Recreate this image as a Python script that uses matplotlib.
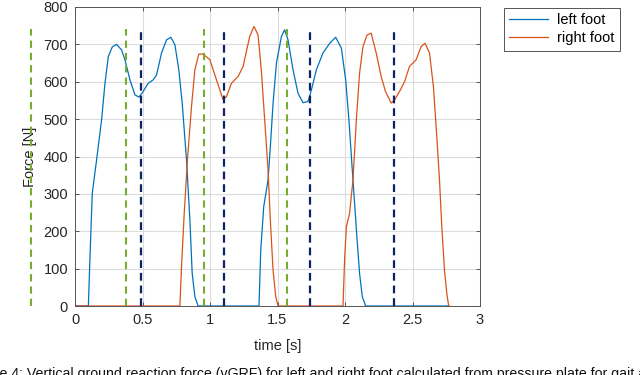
import numpy as np
import matplotlib
matplotlib.use('Agg')
import matplotlib.pyplot as plt

plt.rcParams.update({
    'font.family': ['Liberation Sans', 'DejaVu Sans'],
    'font.size': 10.5,
})

# vertical GRF, left foot (time in s, force in N)
left_t = [0.0, 0.099, 0.111, 0.128, 0.160, 0.197, 0.222, 0.247, 0.276, 0.308,
          0.345, 0.370, 0.407, 0.444, 0.473, 0.500, 0.542, 0.579, 0.604, 0.641,
          0.678, 0.710, 0.740, 0.769, 0.794, 0.826, 0.851, 0.868, 0.888, 0.912,
          1.363, 1.376, 1.398, 1.430, 1.447, 1.467, 1.492, 1.529, 1.553, 1.578,
          1.615, 1.652, 1.689, 1.726, 1.751, 1.788, 1.837, 1.887, 1.931, 1.973,
          2.005, 2.029, 2.054, 2.071, 2.088, 2.108, 2.128, 2.153, 2.770]
left_f = [0, 0, 132, 302, 391, 498, 596, 668, 693, 700,
          685, 659, 605, 565, 559, 571, 596, 605, 618, 677,
          712, 719, 699, 632, 543, 391, 230, 88, 25, 0,
          0, 150, 266, 337, 426, 542, 650, 721, 739, 712,
          632, 569, 544, 547, 578, 632, 677, 703, 719, 690,
          605, 498, 364, 275, 185, 87, 25, 0, 0]

# vertical GRF, right foot
right_t = [0.0, 0.777, 0.789, 0.809, 0.833, 0.863, 0.888, 0.917, 0.949, 0.999,
           1.048, 1.097, 1.122, 1.159, 1.208, 1.245, 1.294, 1.326, 1.356, 1.380,
           1.405, 1.430, 1.447, 1.467, 1.487, 1.504, 1.985, 1.997, 2.010, 2.034,
           2.059, 2.084, 2.108, 2.133, 2.163, 2.194, 2.231, 2.268, 2.300, 2.342,
           2.367, 2.404, 2.441, 2.478, 2.527, 2.564, 2.593, 2.626, 2.655, 2.680,
           2.700, 2.717, 2.737, 2.754, 2.768]
right_f = [0, 0, 105, 248, 391, 534, 632, 674, 674, 659,
           605, 552, 560, 596, 614, 641, 721, 748, 725, 632,
           498, 364, 230, 96, 25, 0, 0, 123, 212, 248,
           337, 498, 623, 694, 725, 730, 677, 614, 574, 543,
           551, 574, 600, 641, 659, 694, 703, 677, 587, 453,
           337, 212, 96, 34, 0]

# gait events (dashed markers)
green_events = [-0.325, 0.375, 0.954, 1.573]
navy_events = [0.491, 1.102, 1.743, 2.362]
event_top = 740

CAPTION = ("Figure 4: Vertical ground reaction force (vGRF) for left and right foot "
           "calculated from pressure plate for gait analysis")

fig = plt.figure(figsize=(6.4, 3.75), dpi=100)
ax = fig.add_axes([75 / 640, 1 - 306 / 375, 405 / 640, 299 / 375])

ax.plot(left_t, left_f, color='#0072BD', lw=0.9, label='left foot')
ax.plot(right_t, right_f, color='#D95319', lw=0.9, label='right foot')

for t in green_events:
    ax.plot([t, t], [0, event_top], ls=(0, (3.5, 2.4)), color='#77AC30', lw=1.5,
            clip_on=False)
for t in navy_events:
    ax.plot([t, t], [0, event_top], ls=(0, (3.5, 2.2)), color='#0B2366', lw=1.6,
            clip_on=False)

ax.set_xlim(0, 3)
ax.set_ylim(0, 800)
ax.set_xticks([0, 0.5, 1, 1.5, 2, 2.5, 3])
ax.set_xticklabels(['0', '0.5', '1', '1.5', '2', '2.5', '3'])
ax.set_yticks(np.arange(0, 801, 100))
ax.grid(True, color='#dcdcdc', lw=0.8)
ax.set_axisbelow(True)
ax.tick_params(direction='in', top=True, right=True, length=3, width=0.6,
               colors='#404040', labelcolor='#262626', pad=5)
for s in ax.spines.values():
    s.set_color('#555555')
    s.set_linewidth(0.7)

ax.set_xlabel('time [s]', color='#262626')
ax.set_ylabel('Force [N]', color='#262626')
ax.yaxis.set_label_coords(-0.095, 0.5)
ax.xaxis.set_label_coords(0.5, -0.11)

leg = ax.legend(loc='upper left', bbox_to_anchor=(504 / 640, 1 - 8 / 375),
                bbox_transform=fig.transFigure, fancybox=False, framealpha=1,
                edgecolor='#555555', borderaxespad=0, handlelength=2.7,
                borderpad=0.35, labelspacing=0.3, handletextpad=0.6)
leg.get_frame().set_linewidth(0.7)

fig.text(-0.051, 1 - 367 / 375, CAPTION, ha='left', va='top', fontsize=10.2,
         color='#111111')

fig.savefig('out.png', dpi=100)
